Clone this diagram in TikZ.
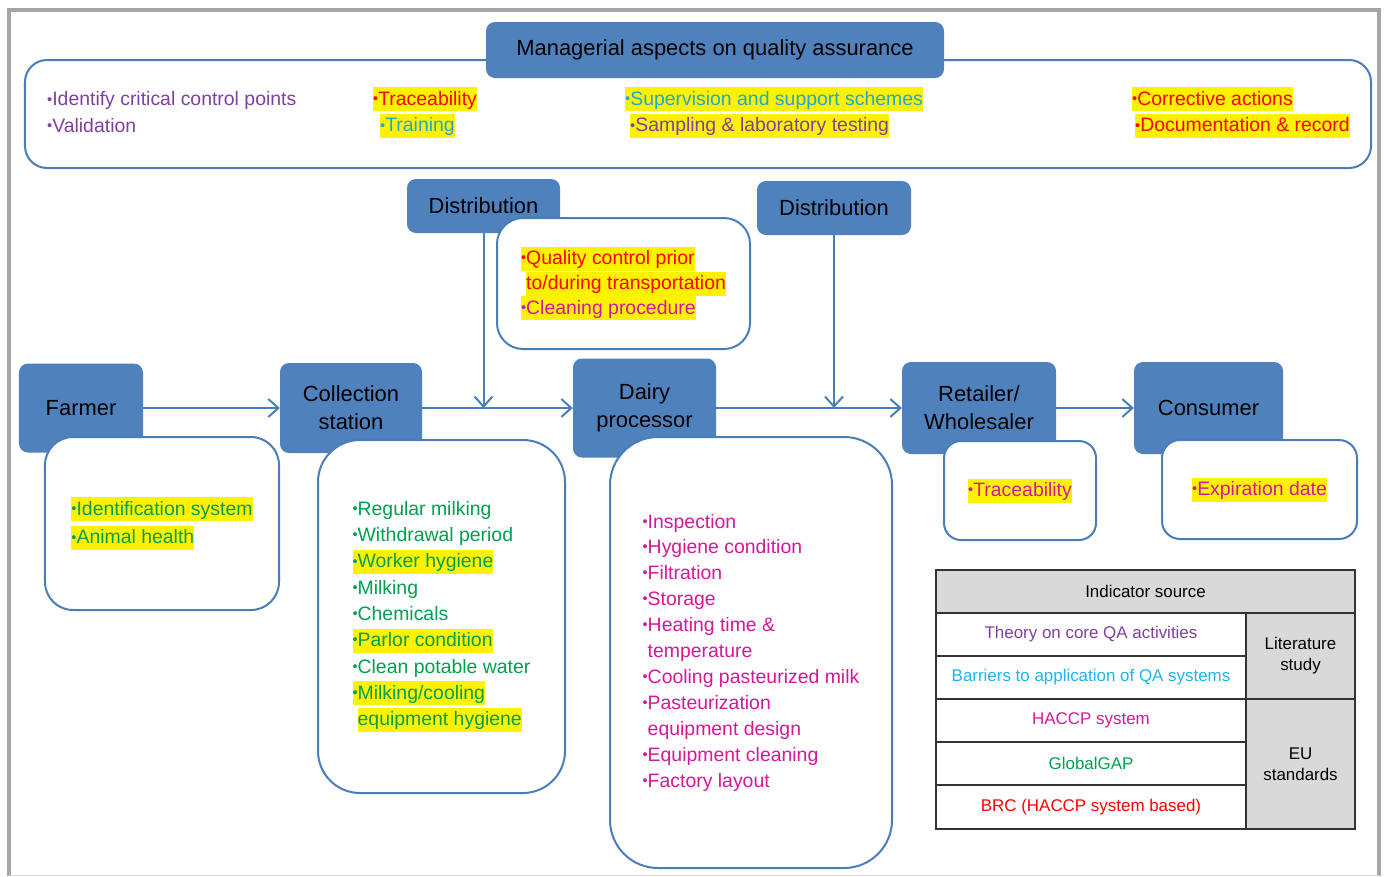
\documentclass[tikz,border=0pt]{standalone}
\usepackage{fontspec}
\setmainfont{Liberation Sans}
\usepackage{xcolor}
\usepackage{tikz}
\usetikzlibrary{arrows.meta}

\definecolor{qablue}{HTML}{4F81BD}
\definecolor{qaline}{HTML}{4A7EBB}
\definecolor{qapurple}{HTML}{8040A0}
\definecolor{qateal}{HTML}{1FAACB}
\definecolor{qasky}{HTML}{1EB4F0}
\definecolor{qagreen}{HTML}{00A050}
\definecolor{qamagenta}{HTML}{D4189A}
\definecolor{qared}{HTML}{FF0000}
\definecolor{qagray}{HTML}{D9D9D9}
\definecolor{qaframe}{HTML}{A6A6A6}

\newcommand{\itm}{\raisebox{0.1em}{\scalebox{0.75}{•}}}
\newcommand{\hl}[1]{{\setlength{\fboxsep}{0pt}\colorbox{yellow}{\rule[-6bp]{0pt}{24bp}#1}}}

\begin{document}
\begin{tikzpicture}[x=1bp, y=-1bp,
  actor/.style={fill=qablue, rounded corners=9bp, align=center, inner sep=0pt, font=\fontsize{22}{28}\selectfont},
  note/.style={draw=qaline, line width=2bp, fill=white, align=left, inner sep=0pt, font=\fontsize{19.5}{26}\selectfont},
  col/.style={anchor=west, align=left, inner sep=0pt, font=\fontsize{19.5}{27}\selectfont},
  flow/.style={draw=qaline, line width=2bp, -{Straight Barb[length=10bp,width=18bp]}},
  cell/.style={draw=black!80, line width=1.2bp, fill=white, inner sep=0pt, minimum width=310bp, minimum height=43bp, font=\fontsize{17}{21}\selectfont},
  side/.style={cell, fill=qagray, minimum width=109bp, align=center}]

\useasboundingbox (0,0) rectangle (1385,876);
\draw[qaframe, line width=4bp] (9,876) -- (9,10) -- (1378.5,10) -- (1378.5,876);
\draw[qaframe!40, line width=1bp] (9,875) -- (1378.5,875);

\node[note, rounded corners=22bp, minimum width=1346bp, minimum height=108bp] (M) at (698,114) {};
\node[actor, minimum width=458bp, minimum height=56bp] (T) at (715,50) {Managerial aspects on quality assurance};
\node[col, text=qapurple] (M1) at (47,112.5) {\itm Identify critical control points\\\itm Validation};
\node[col] (M2) at (373,112.5) {\hl{\textcolor{qared}{\itm Traceability}}\\\hspace*{7bp}\hl{\textcolor{qateal}{\itm Training}}};
\node[col] (M3) at (625,112.5) {\hl{\textcolor{qateal}{\itm Supervision and support schemes}}\\\hspace*{5bp}\hl{\textcolor{qapurple}{\itm Sampling \& laboratory testing}}};
\node[col] (M4) at (1132,112.5) {\hl{\textcolor{qared}{\itm Corrective actions}}\\\hspace*{3bp}\hl{\textcolor{qared}{\itm Documentation \& record}}};

\node[actor, minimum width=153bp, minimum height=54bp] (D1) at (483.5,206) {Distribution};
\node[actor, minimum width=154bp, minimum height=54bp] (D2) at (834,208) {Distribution};
\node[note, rounded corners=26bp, minimum width=253bp, minimum height=131bp, font=\fontsize{19.5}{25}\selectfont] (Q) at (623.5,283.5)
  {\hl{\textcolor{qared}{\itm Quality control prior}}\\\phantom{\itm}\hl{\textcolor{qared}{to/during transportation}}\\\hl{\textcolor{qamagenta}{\itm Cleaning procedure}}};

\node[actor, minimum width=124bp, minimum height=89bp] (F) at (81,408) {Farmer};
\node[actor, minimum width=142bp, minimum height=90bp] (C) at (351,408) {Collection\\station};
\node[actor, minimum width=143bp, minimum height=99bp] (D) at (644.5,408) {Dairy\\processor};
\node[actor, minimum width=154bp, minimum height=92bp] (R) at (979,408) {Retailer/\\Wholesaler};
\node[actor, minimum width=149bp, minimum height=92bp] (U) at (1208.5,408) {Consumer};

\node[note, rounded corners=28bp, minimum width=234bp, minimum height=173bp, text=qagreen, font=\fontsize{19.5}{29}\selectfont] (Fn) at (162,523.5)
  {\hl{\itm Identification system}\\\hl{\itm Animal health}};
\node[note, rounded corners=42bp, minimum width=247bp, minimum height=353bp, text=qagreen, font=\fontsize{19.5}{26.4}\selectfont] (Cn) at (441.5,616.5)
  {\itm Regular milking\\\itm Withdrawal period\\\hl{\itm Worker hygiene}\\\itm Milking\\\itm Chemicals\\\hl{\itm Parlor condition}\\\itm Clean potable water\\\hl{\itm Milking/cooling}\\\phantom{\itm}\hl{equipment hygiene}};
\node[note, rounded corners=48bp, minimum width=282bp, minimum height=431bp, text=qamagenta] (Dn) at (751,652.5)
  {\itm Inspection\\\itm Hygiene condition\\\itm Filtration\\\itm Storage\\\itm Heating time \&\\\phantom{\itm}temperature\\\itm Cooling pasteurized milk\\\itm Pasteurization\\\phantom{\itm}equipment design\\\itm Equipment cleaning\\\itm Factory layout};
\node[note, rounded corners=17bp, minimum width=152bp, minimum height=99bp, text=qamagenta] (Rn) at (1020,490.5) {\hl{\itm Traceability}};
\node[note, rounded corners=18bp, minimum width=195bp, minimum height=99bp, text=qamagenta] (Un) at (1259.5,489.5) {\hl{\itm Expiration date}};

\coordinate (J1) at (D1 |- C);
\coordinate (J2) at (D2 |- D);
\draw[flow] (F) -- (C);
\draw[flow] (C) -- (D);
\draw[flow] (D) -- (R);
\draw[flow] (R) -- (U);
\draw[flow] (D1) -- (J1);
\draw[flow] (D2) -- (J2);

\node[side, minimum width=419bp] (H) at (1145.5,591.5) {Indicator source};
\node[cell, text=qapurple] (S1) at (1091,634.5) {Theory on core QA activities};
\node[cell, text=qasky] (S2) at (1091,677.5) {Barriers to application of QA systems};
\node[cell, text=qamagenta] (S3) at (1091,720.5) {HACCP system};
\node[cell, text=qagreen] (S4) at (1091,763.5) {GlobalGAP};
\node[cell, text=qared, minimum height=44bp] (S5) at (1091,807) {BRC (HACCP system based)};
\node[side, minimum height=86bp] (L) at (1300.5,656) {Literature\\study};
\node[side, minimum height=130bp] (E) at (1300.5,764) {EU\\standards};

\end{tikzpicture}
\end{document}
